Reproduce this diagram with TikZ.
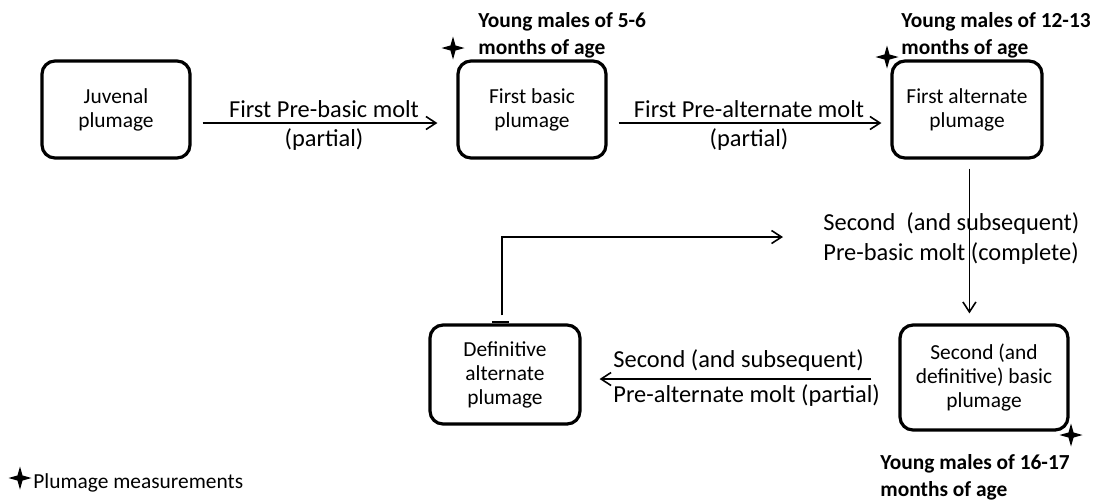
\documentclass[tikz,border=0pt]{standalone}
\usepackage{fontspec}
\setmainfont{Carlito}
\usepackage{tikz}
\usetikzlibrary{positioning,arrows.meta,shapes.geometric}

\begin{document}
\begin{tikzpicture}[x=0.5pt, y=-0.5pt,
plumage/.style={rectangle,draw,line width=1.6pt,rounded corners=6.5pt,align=center,
  inner sep=0pt, font=\fontsize{10.7}{12}\selectfont},
molt/.style={inner sep=2.5pt, font=\fontsize{12.2}{15}\selectfont},
age/.style={anchor=west, align=left, inner sep=0pt, font=\fontsize{10.7}{13.5}\selectfont\bfseries},
measure/.style={star, star points=4, star point ratio=3.2, fill, minimum size=11.5pt, inner sep=0pt},
moltarrow/.style={line width=0.8pt, -{Straight Barb[length=5pt,width=6.5pt]}},
  %% every node/.style = {draw, red}
    ]
  \useasboundingbox (0,0) rectangle (1095,500);

  % plumages
  \node[plumage, minimum width=74pt, minimum height=48.5pt] (juv) at (116,109.5) {Juvenal\\plumage};
  \node[plumage, minimum width=74pt, minimum height=48.5pt] (fbasic) at (532,109.5) {First basic\\plumage};
  \node[plumage, minimum width=75pt, minimum height=48.5pt] (falt) at (967,109.5) {First alternate\\plumage};
  \node[plumage, minimum width=84pt, minimum height=52.5pt] (sbasic) at (984,377.5) {Second (and\\definitive) basic\\plumage};
  \node[plumage, minimum width=75pt, minimum height=49.5pt] (defalt) at (505,374.5) {Definitive\\alternate\\plumage};

  % ages
  \node[age] (age1) at (478,35) {Young males of 5-6\\months of age};
  \node[age] (age2) at (901,35) {Young males of 12-13\\months of age};
  \node[age] (age3) at (880,477.5) {Young males of 16-17\\months of age};

  % measurements
  \node[measure] (m1) at (453,48) {};
  \node[measure] (m2) at (887,57) {};
  \node[measure] (m3) at (1071,435) {};
  \node[measure] (m0) at (20,478) {};
  \node[anchor=west, inner sep=0pt, font=\fontsize{10.7}{12}\selectfont] (legend) at (33,483) {Plumage measurements};

  % molts
  \draw[moltarrow, shorten <=5.5pt, shorten >=9.5pt] ([yshift=-6.75pt]juv.east) -- ([yshift=-6.75pt]fbasic.west)
    node[molt, midway, above] (m12a) {First Pre-basic molt}
    node[molt, midway, below] (m12b) {(partial)};
  \draw[moltarrow, shorten <=5.5pt, shorten >=4.5pt] ([yshift=-6.75pt]fbasic.east) -- ([yshift=-6.75pt]falt.west)
    node[molt, midway, above] (m23a) {First Pre-alternate molt}
    node[molt, midway, below] (m23b) {(partial)};
  \draw[moltarrow, shorten <=4.5pt, shorten >=5pt] ([xshift=1.2pt]falt.south) -- ([xshift=1.2pt]falt.south |- sbasic.north);
  \node[molt, anchor=west, align=left, inner sep=0pt] (m34) at (823,239) {Second\ \ (and subsequent)\\Pre-basic molt (complete)};

  \draw[moltarrow, shorten <=13.5pt, shorten >=9pt] ([yshift=-0.75pt]sbasic.west) -- ([yshift=-0.75pt]sbasic.west -| defalt.east);
  \node[molt, anchor=south west] (m45a) at (608,377) {Second (and subsequent)};
  \node[molt, anchor=north west] (m45b) at (608,379) {Pre-alternate molt (partial)};

  \coordinate (back) at (783,237);
  \draw[moltarrow] ([xshift=-1.5pt]defalt.north) ++(0,-8) |- (back);
  \draw[line width=1pt] ([xshift=-6.5pt, yshift=0.8pt]defalt.north) -- ++(17,0);
\end{tikzpicture}
\end{document}
